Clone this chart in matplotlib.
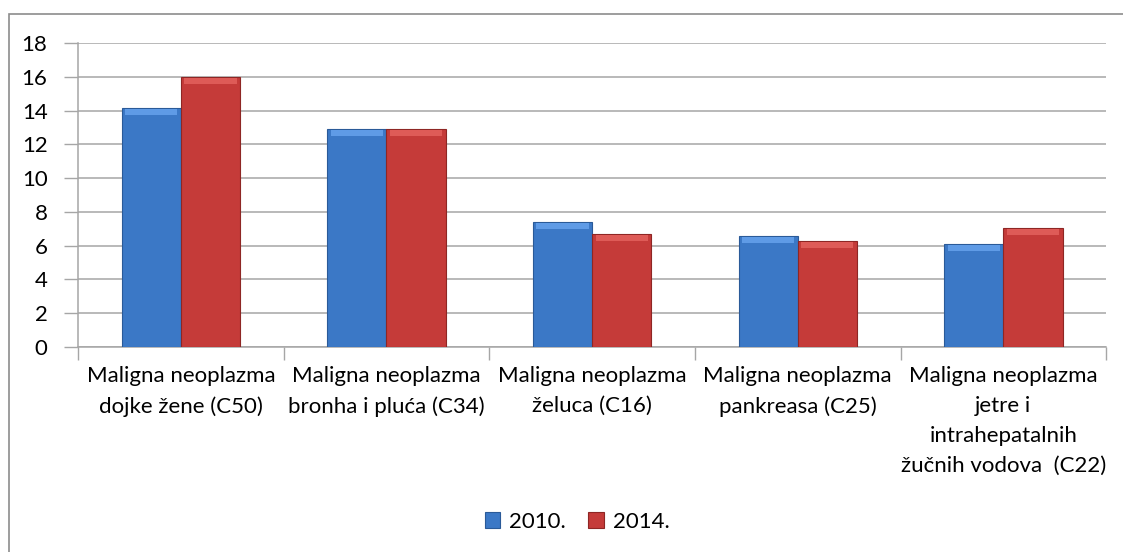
import numpy as np
import matplotlib.pyplot as plt
from matplotlib.patches import Rectangle

plt.rcParams['font.family'] = ['Lato', 'DejaVu Sans']

# data
categories = ['Maligna neoplazma\ndojke žene (C50)',
              'Maligna neoplazma\nbronha i pluća (C34)',
              'Maligna neoplazma\nželuca (C16)',
              'Maligna neoplazma\npankreasa (C25)',
              'Maligna neoplazma\njetre i\nintrahepatalnih\nžučnih vodova  (C22)']
vals_2010 = [14.15, 12.9, 7.4, 6.55, 6.1]
vals_2014 = [16.0, 12.9, 6.7, 6.25, 7.05]
series_names = ['2010.', '2014.']
yticks = [0, 2, 4, 6, 8, 10, 12, 14, 16, 18]

blue = '#3B78C6'
red = '#C53B39'
blue_top = '#5F9BE6'
red_top = '#DE5B57'
grid_col = '#A6A6A6'

fig = plt.figure(figsize=(11.23, 5.52), dpi=100)
ax = fig.add_axes([0.0695, 0.3714, 0.9155, 0.5506])

# outer chart border (only left/top visible in the crop)
fig.patches.append(Rectangle((9 / 1123, -0.1), 1.2, 1 - 14 / 552 + 0.1,
                             transform=fig.transFigure, fill=False,
                             edgecolor='#8C8C8C', linewidth=1.2))

x = np.arange(len(categories))
w = 0.288
cap = 0.35  # height of the lighter bevel strip on top of each bar
b1 = ax.bar(x - w / 2, vals_2010, w, color=blue, edgecolor='#2A5A98',
            linewidth=0.8, label=series_names[0], zorder=3)
b2 = ax.bar(x + w / 2, vals_2014, w, color=red, edgecolor='#8E2624',
            linewidth=0.8, label=series_names[1], zorder=3)
ax.bar(x - w / 2, cap, w * 0.88, bottom=np.array(vals_2010) - cap - 0.05,
       color=blue_top, linewidth=0, zorder=4)
ax.bar(x + w / 2, cap, w * 0.88, bottom=np.array(vals_2014) - cap - 0.05,
       color=red_top, linewidth=0, zorder=4)

ax.set_xlim(-0.5, len(categories) - 0.5)
ax.set_ylim(0, 18)
ax.set_yticks(yticks)
ax.yaxis.grid(True, color=grid_col, linewidth=1.1)
ax.set_axisbelow(True)

ax.set_xticks(x)
ax.set_xticklabels(categories, fontsize=16, linespacing=1.62, va='top')
ax.tick_params(axis='x', length=0, pad=14)
ax.set_xticks(np.arange(len(categories) + 1) - 0.5, minor=True)
ax.tick_params(axis='x', which='minor', length=9, color=grid_col, width=1)
ax.tick_params(axis='y', length=10, color=grid_col, width=1, labelsize=16, pad=12)

for s in ['top', 'right']:
    ax.spines[s].set_visible(False)
for s in ['left', 'bottom']:
    ax.spines[s].set_color(grid_col)
    ax.spines[s].set_linewidth(1.1)

fig.legend(handles=[b1, b2], labels=series_names, loc='center',
           bbox_to_anchor=(577 / 1123, 1 - 522 / 552), ncol=2, frameon=False,
           fontsize=16, handlelength=0.7, handleheight=0.7,
           handletextpad=0.4, columnspacing=1.0)

fig.savefig('out.png', dpi=100)
